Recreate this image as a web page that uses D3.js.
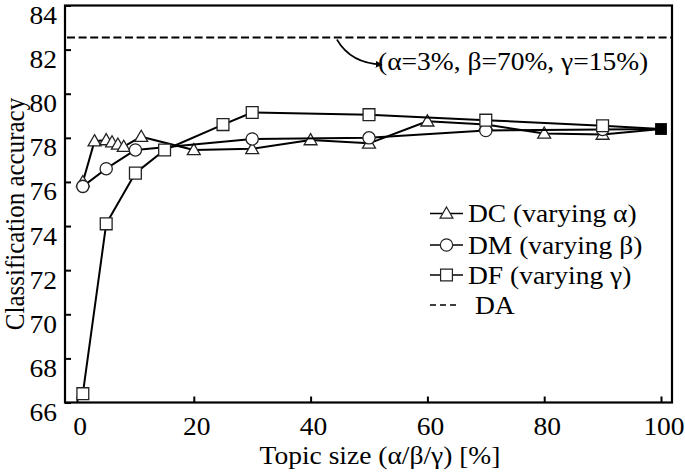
<!DOCTYPE html>
<html>
<head>
<meta charset="utf-8">
<script src="https://cdn.jsdelivr.net/npm/d3@7/dist/d3.min.js"></script>
<style>
  html, body { margin: 0; padding: 0; background: #fff; }
  svg { display: block; }
</style>
</head>
<body>
<svg id="chart" width="685" height="473"></svg>
<script>
// ---- data ----
const dcX = [1, 3, 5, 6, 7, 8, 11, 20, 30, 40, 50, 60, 70, 80, 90, 100];
const dcY = [76.0, 77.85, 77.9, 77.8, 77.7, 77.6, 78.05, 77.45, 77.5, 77.9, 77.75, 78.75, 78.6, 78.2, 78.15, 78.4];
const dmX = [1, 5, 10, 30, 50, 70, 90, 100];
const dmY = [75.8, 76.6, 77.45, 77.95, 78.0, 78.33, 78.38, 78.4];
const dfX = [1, 5, 10, 15, 25, 30, 50, 70, 90, 100];
const dfY = [66.4, 74.1, 76.4, 77.45, 78.6, 79.15, 79.05, 78.8, 78.55, 78.4];
const daValue = 82.55;
const xTicks = [0, 20, 40, 60, 80, 100];
const yTicks = [66, 68, 70, 72, 74, 76, 78, 80, 82, 84];
const seriesNames = ["DC (varying \u03B1)", "DM (varying \u03B2)", "DF (varying \u03B3)"];
const daName = "DA";
const annotation = "(\u03B1=3%, \u03B2=70%, \u03B3=15%)";
const xTitle = "Topic size (\u03B1/\u03B2/\u03B3) [%]";
const yTitle = "Classification accuracy";

// ---- layout ----
const svg = d3.select("#chart");
const frame = { left: 65, right: 672, top: 5.5, bottom: 402.5 };
const x = d3.scaleLinear().domain([0, 100]).range([77, 661]);
const y = d3.scaleLinear().domain([66, 84]).range([frame.bottom, frame.top]);
const FONT = "'Liberation Serif', Tinos, 'Times New Roman', Times, 'Nimbus Roman', serif";
const FS = 25, SX = 1.1;

function stext(g, str, tx, ty, anchor, rot) {
  return g.append("g").attr("transform", `translate(${tx},${ty}) scale(${SX},1)` + (rot ? ` rotate(${rot})` : ""))
    .append("text").attr("font-family", FONT).attr("font-size", FS).attr("fill", "#000")
    .attr("text-anchor", anchor || "start").text(str);
}

// DA dashed line
svg.append("line")
  .attr("x1", frame.left + 2).attr("x2", frame.right)
  .attr("y1", y(daValue)).attr("y2", y(daValue))
  .attr("stroke", "#000").attr("stroke-width", 2).attr("stroke-dasharray", "8,3.6");

// axes ticks (inward)
const xAxis = d3.axisBottom(x).tickValues(xTicks).tickSize(-6).tickFormat("");
const gx = svg.append("g").attr("transform", `translate(0,${frame.bottom})`).call(xAxis);
gx.select(".domain").remove();
gx.selectAll("line").attr("stroke", "#000").attr("stroke-width", 2);

const yAxis = d3.axisLeft(y).tickValues(yTicks).tickSize(-6).tickFormat("");
const gy = svg.append("g").attr("transform", `translate(${frame.left},0)`).call(yAxis);
gy.select(".domain").remove();
gy.selectAll("line").attr("stroke", "#000").attr("stroke-width", 2);

// frame
svg.append("rect")
  .attr("x", frame.left).attr("y", frame.top)
  .attr("width", frame.right - frame.left).attr("height", frame.bottom - frame.top)
  .attr("fill", "none").attr("stroke", "#000").attr("stroke-width", 2.2);

// tick labels
const labels = svg.append("g");
xTicks.forEach(v => stext(labels, String(v), x(v) + 3, 435, "middle"));
yTicks.forEach(v => stext(labels, String(v), 57, y(v) + 18.5, "end"));

// axis titles
stext(labels, xTitle, 380, 464, "middle");
stext(labels, yTitle, 24, 214, "middle", -90);

// markers
const sym = {
  tri: d3.symbol().type(d3.symbolTriangle).size(72),
  cir: d3.symbol().type(d3.symbolCircle).size(118),
  sq: d3.symbol().type(d3.symbolSquare).size(140)
};

function drawSeries(xs, ys, shape, dy) {
  const pts = xs.map((d, i) => [d, ys[i]]);
  const line = d3.line().x(d => x(d[0])).y(d => y(d[1]));
  svg.append("path").datum(pts).attr("d", line)
    .attr("fill", "none").attr("stroke", "#000").attr("stroke-width", 2).attr("stroke-linejoin", "round");
  svg.append("g").selectAll("path").data(pts.filter(d => d[0] < 100)).join("path")
    .attr("d", sym[shape])
    .attr("transform", d => `translate(${x(d[0])},${y(d[1]) + (dy || 0)})`)
    .attr("fill", "#fff").attr("stroke", "#222").attr("stroke-width", 1.3);
}
drawSeries(dcX, dcY, "tri", 1);
drawSeries(dmX, dmY, "cir");
drawSeries(dfX, dfY, "sq");

// final common point (filled)
svg.append("path").attr("d", sym.sq)
  .attr("transform", `translate(${x(dfX[dfX.length - 1])},${y(dfY[dfY.length - 1])})`)
  .attr("fill", "#000");

// annotation with arrow
svg.append("defs").append("marker")
  .attr("id", "ah").attr("viewBox", "0 0 10 10").attr("refX", 9).attr("refY", 5)
  .attr("markerWidth", 7).attr("markerHeight", 7).attr("markerUnits", "userSpaceOnUse")
  .attr("orient", "auto")
  .append("path").attr("d", "M0,0 L10,5 L0,10 Z").attr("fill", "#000");
const ax0 = x(44.5), ay0 = y(daValue) + 2;
svg.append("path")
  .attr("d", `M${ax0},${ay0} Q${ax0 + 14},${ay0 + 24} ${ax0 + 45},${ay0 + 25}`)
  .attr("fill", "none").attr("stroke", "#000").attr("stroke-width", 1.6)
  .attr("marker-end", "url(#ah)");
stext(svg, annotation, 378, 70, "start");

// legend
const lg = svg.append("g");
const legendRows = [213.5, 245, 275, 305];
const shapes = ["tri", "cir", "sq"];
shapes.forEach((s, i) => {
  const cy = legendRows[i];
  lg.append("line").attr("x1", 430).attr("x2", 463).attr("y1", cy).attr("y2", cy)
    .attr("stroke", "#000").attr("stroke-width", 1.6);
  lg.append("path").attr("d", sym[s]).attr("transform", `translate(446.5,${cy + (s === "tri" ? 1 : 0)})`)
    .attr("fill", "#fff").attr("stroke", "#222").attr("stroke-width", 1.2);
  stext(lg, seriesNames[i], 468, cy + 8.5, "start");
});
lg.append("line").attr("x1", 430).attr("x2", 460).attr("y1", legendRows[3]).attr("y2", legendRows[3])
  .attr("stroke", "#000").attr("stroke-width", 1.3).attr("stroke-dasharray", "6,4");
stext(lg, daName, 475, legendRows[3] + 8.5, "start");
</script>
</body>
</html>
